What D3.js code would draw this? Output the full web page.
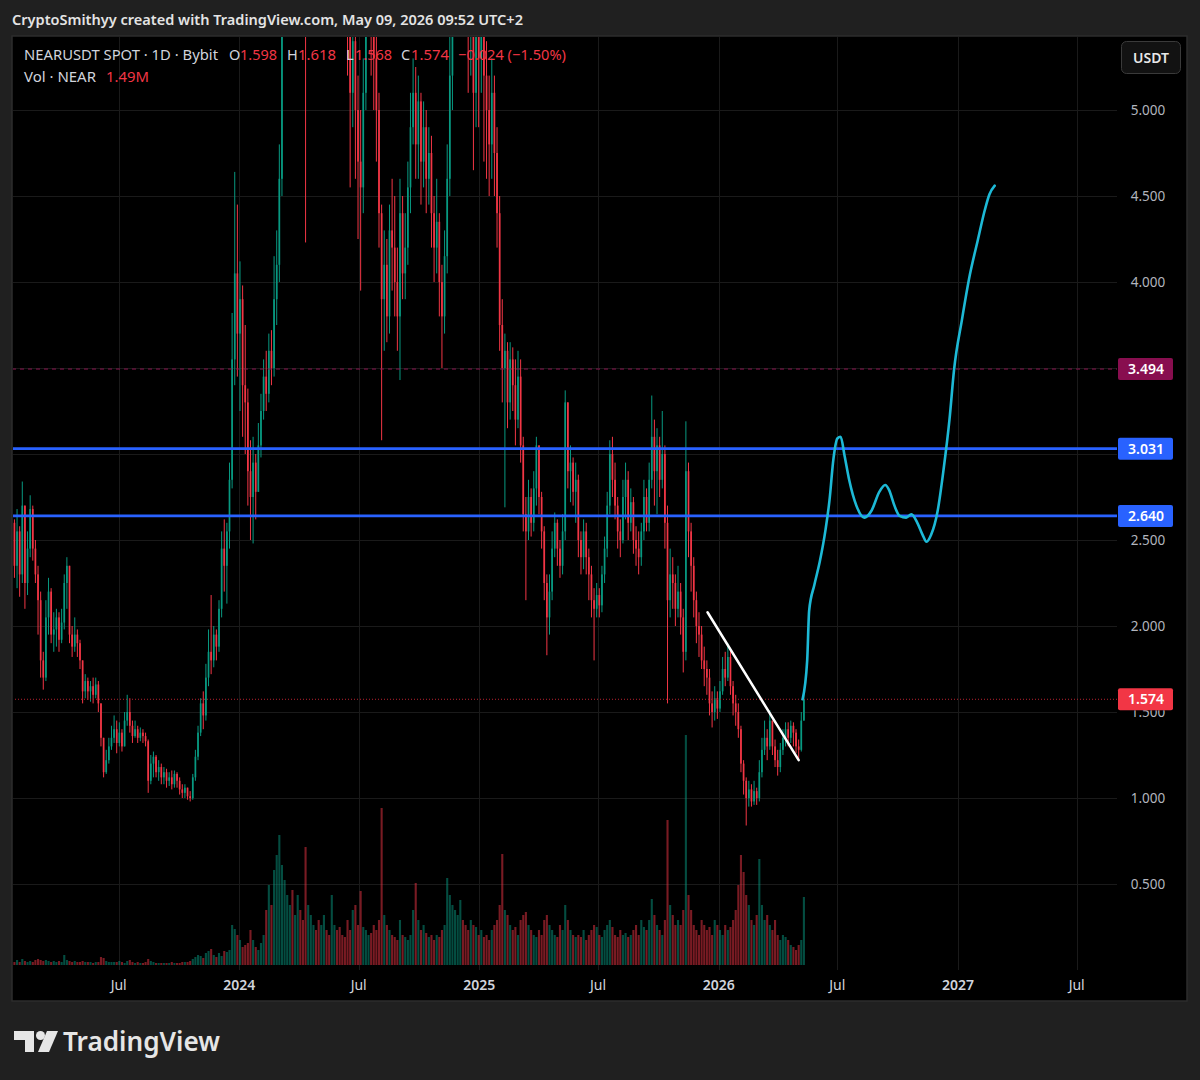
<!DOCTYPE html>
<html><head><meta charset="utf-8">
<script src="https://cdn.jsdelivr.net/npm/d3@7"></script>
<style>body{margin:0;background:#202020;}svg{display:block;}</style>
</head><body><svg id="c" width="1200" height="1080"></svg>
<script>
// ---------- DATA (4-day candles, NEARUSDT) ----------
const startDate = "2023-01-19";
const stepDays = 4;
const firstOpen = 2.50;
const closes = [
2.60,2.35,2.55,2.30,2.70,2.25,2.45,2.68,2.45,2.30,
2.15,1.80,1.70,2.05,2.20,1.95,1.98,2.05,1.92,2.02,
2.25,2.35,1.95,1.88,1.95,1.90,1.80,1.62,1.68,1.62,
1.65,1.60,1.66,1.55,1.35,1.15,1.22,1.30,1.35,1.40,
1.32,1.38,1.30,1.45,1.50,1.42,1.36,1.40,1.35,1.38,
1.36,1.33,1.10,1.20,1.24,1.15,1.18,1.12,1.15,1.10,
1.12,1.08,1.14,1.10,1.05,1.03,1.06,1.01,1.00,1.12,
1.24,1.38,1.55,1.48,1.70,1.85,1.80,1.95,1.88,2.10,
2.45,2.35,2.55,2.85,3.55,4.05,3.70,3.90,3.40,3.30,
2.90,2.75,2.95,2.78,3.05,3.25,3.45,3.35,3.60,3.50,
3.90,4.10,4.60,5.60,6.50,6.80,7.40,6.90,7.10,7.60,
7.20,6.80,5.80,6.20,7.00,7.30,6.60,6.00,6.60,6.90,
6.30,6.00,6.80,7.20,7.00,6.60,6.20,6.00,5.60,5.10,
5.40,5.00,4.70,4.55,5.10,5.70,5.90,5.60,5.30,5.00,
4.40,3.90,4.10,3.80,4.30,4.20,4.00,3.80,4.40,4.05,
4.20,4.55,4.90,5.10,4.80,5.05,4.70,4.90,4.60,4.75,
4.40,4.20,4.35,4.00,3.80,4.15,4.60,5.20,5.80,6.60,
6.90,7.40,7.00,6.20,5.60,5.80,5.10,5.50,5.30,5.60,
5.20,5.00,4.80,5.10,4.75,4.40,3.75,3.50,3.60,3.30,
3.55,3.40,3.20,3.45,3.05,2.65,2.55,2.75,2.60,2.80,
3.05,2.75,2.55,2.25,2.05,2.20,2.45,2.60,2.45,2.35,
2.55,3.30,2.90,2.95,2.78,2.85,2.50,2.40,2.55,2.40,
2.30,2.15,2.10,2.18,2.12,2.30,2.45,2.70,3.00,2.85,
2.70,2.55,2.50,2.75,2.85,2.60,2.72,2.50,2.45,2.40,
2.55,2.75,2.60,2.85,3.10,2.90,3.05,2.85,3.00,2.60,
2.15,2.30,2.25,2.10,2.20,2.05,1.85,2.90,2.55,2.35,
2.15,2.00,1.95,1.80,1.75,1.70,1.55,1.50,1.58,1.52,
1.62,1.75,1.70,1.82,1.65,1.55,1.50,1.40,1.20,1.10,
1.00,1.05,0.98,1.04,1.00,1.15,1.28,1.35,1.30,1.45,
1.30,1.22,1.18,1.28,1.35,1.40,1.35,1.42,1.38,1.30,
1.28,1.45,1.574];
const highs = [
2.72,2.62,2.68,2.58,2.84,2.70,2.55,2.76,2.70,2.50,
2.35,2.20,1.85,2.15,2.28,2.22,2.08,2.10,2.08,2.10,
2.30,2.40,2.30,2.00,2.05,1.98,1.92,1.80,1.72,1.70,
1.68,1.70,1.70,1.68,1.55,1.35,1.28,1.35,1.42,1.48,
1.45,1.44,1.40,1.50,1.60,1.58,1.45,1.45,1.42,1.41,
1.40,1.38,1.34,1.25,1.27,1.25,1.22,1.20,1.18,1.17,
1.15,1.16,1.16,1.15,1.12,1.08,1.08,1.06,1.04,1.14,
1.28,1.42,1.58,1.62,1.78,1.98,2.18,2.00,1.98,2.15,
2.55,2.62,2.60,2.95,3.82,4.64,4.45,4.12,3.98,3.75,
3.38,3.08,3.10,3.00,3.18,3.35,3.55,3.60,3.70,3.72,
4.15,4.30,4.80,5.80,6.90,7.20,7.80,7.60,7.50,8.00,
7.80,7.40,7.10,6.60,7.30,7.80,7.40,6.70,6.90,7.20,
7.00,6.40,7.00,7.50,7.40,7.10,6.70,6.40,6.20,5.70,
5.80,5.60,5.20,5.00,5.30,6.00,6.30,6.10,5.80,5.50,
5.10,4.45,4.30,4.25,4.45,4.60,4.50,4.20,4.60,4.50,
4.40,4.70,5.10,5.30,5.25,5.20,5.10,5.05,5.00,4.90,
4.85,4.50,4.60,4.40,4.10,4.30,4.80,5.50,6.20,7.00,
7.40,8.00,7.60,7.10,6.30,6.00,5.90,5.80,5.60,5.90,
5.70,5.40,5.20,5.30,5.20,4.90,4.50,3.90,3.70,3.65,
3.65,3.62,3.55,3.60,3.55,3.10,2.75,2.85,2.80,2.90,
3.10,3.00,2.78,2.58,2.30,2.30,2.55,2.66,2.62,2.50,
2.65,3.37,3.25,3.05,2.98,2.95,2.88,2.55,2.62,2.60,
2.45,2.35,2.22,2.25,2.22,2.35,2.52,2.78,3.08,3.10,
2.95,2.75,2.62,2.85,2.95,2.90,2.80,2.75,2.58,2.55,
2.60,2.85,2.80,2.95,3.34,3.20,3.15,3.10,3.25,3.05,
2.70,2.45,2.40,2.30,2.35,2.25,2.10,3.19,2.95,2.60,
2.40,2.20,2.08,2.00,1.88,1.80,1.75,1.62,1.65,1.62,
1.68,1.82,1.85,1.90,1.86,1.68,1.60,1.55,1.42,1.22,
1.12,1.10,1.08,1.10,1.06,1.22,1.35,1.45,1.40,1.51,
1.45,1.34,1.28,1.32,1.40,1.44,1.44,1.45,1.44,1.40,
1.34,1.50,1.618];
const lows = [
2.30,2.28,2.22,2.17,2.25,2.10,2.18,2.40,2.38,2.25,
1.95,1.70,1.63,1.68,1.95,1.90,1.85,1.88,1.85,1.90,
1.98,2.10,1.90,1.82,1.85,1.82,1.75,1.55,1.58,1.57,
1.56,1.55,1.58,1.50,1.30,1.12,1.14,1.20,1.28,1.32,
1.26,1.30,1.27,1.30,1.42,1.38,1.32,1.35,1.32,1.33,
1.32,1.30,1.03,1.08,1.12,1.12,1.10,1.08,1.08,1.06,
1.07,1.05,1.06,1.06,1.02,1.00,1.00,0.99,0.98,0.99,
1.10,1.22,1.36,1.40,1.45,1.65,1.72,1.76,1.80,1.85,
2.05,2.20,2.13,2.45,2.80,3.40,3.45,3.25,3.10,3.00,
2.70,2.50,2.48,2.62,2.78,2.98,3.20,3.25,3.30,3.40,
3.45,3.75,4.00,4.50,5.50,6.20,6.60,6.40,6.60,7.00,
6.80,6.20,4.23,5.60,6.00,6.80,6.30,5.70,5.90,6.50,
6.00,5.60,5.90,6.70,6.60,6.30,5.90,5.60,5.20,4.55,
4.90,4.60,4.25,3.95,4.40,5.00,5.50,5.20,5.00,4.70,
4.20,3.08,3.60,3.65,3.70,3.95,3.80,3.60,3.43,3.90,
3.90,4.10,4.40,4.80,4.60,4.60,4.45,4.55,4.40,4.45,
4.20,4.00,4.05,3.80,3.50,3.70,4.05,4.50,5.00,5.60,
6.30,6.80,6.50,5.80,5.10,5.20,4.65,4.90,4.90,5.10,
4.70,4.60,4.50,4.60,4.50,4.20,3.60,3.30,2.69,3.15,
3.20,3.25,3.05,3.15,2.95,2.55,2.15,2.50,2.52,2.55,
2.70,2.65,2.45,2.15,1.83,1.95,2.15,2.40,2.35,2.28,
2.30,2.50,2.80,2.72,2.70,2.60,2.40,2.30,2.33,2.30,
2.15,2.05,1.80,2.05,2.05,2.08,2.25,2.40,2.65,2.75,
2.62,2.45,2.40,2.48,2.62,2.50,2.55,2.42,2.35,2.30,
2.35,2.50,2.55,2.55,2.80,2.70,2.65,2.75,2.80,2.45,
1.55,2.05,2.10,2.00,2.05,1.95,1.73,1.80,2.40,2.20,
2.05,1.90,1.82,1.75,1.65,1.60,1.48,1.41,1.45,1.46,
1.50,1.60,1.65,1.68,1.60,1.48,1.42,1.35,1.15,1.02,
0.84,0.95,0.95,0.96,0.96,0.98,1.12,1.25,1.22,1.28,
1.25,1.18,1.13,1.15,1.25,1.30,1.30,1.32,1.30,1.26,
1.22,1.27,1.45];
const volumes = [
4,3,5,3,6,4,3,4,3,5,6,5,4,
5,4,3,4,3,4,3,10,5,4,3,4,3,3,
4,3,3,3,2,3,3,
8,7,4,3,3,3,3,4,3,2,4,5,3,2,3,2,2,3,6,
4,3,2,2,2,2,2,2,3,2,2,2,3,3,3,4,
6,8,10,9,7,12,14,16,10,8,12,9,14,13,15,
40,36,30,25,18,20,22,35,25,18,15,22,30,55,80,60,95,110,130,100,
85,70,60,75,50,70,55,45,118,60,50,40,35,45,40,50,35,30,70,40,35,38,30,28,
45,35,55,60,40,74,38,35,30,32,40,35,45,
157,
50,40,35,30,28,25,45,30,28,25,30,55,82,45,35,40,32,28,30,
25,30,28,35,40,87,70,60,55,50,65,45,40,35,45,
40,38,30,35,28,30,25,35,40,45,60,111,55,50,40,35,38,30,45,50,
53,40,35,30,28,35,30,45,50,40,35,30,28,40,35,60,45,35,30,28,
30,28,35,25,30,35,40,38,30,28,35,40,45,38,30,28,35,30,32,28,30,35,40,30,45,38,35,45,66,50,40,35,30,45,
145,
60,50,40,45,40,55,
230,
70,55,40,35,30,45,40,35,38,30,45,40,35,30,40,35,38,45,
55,80,110,93,70,60,45,40,50,
106,60,45,50,40,35,45,30,25,30,28,25,20,18,15,20,25,68];

const priceTicks = [0.5, 1.0, 1.5, 2.0, 2.5, 4.0, 4.5, 5.0];
const gridPrices = [0.5,1.0,1.5,2.0,2.5,3.0,3.5,4.0,4.5,5.0];
const timeTickDates = ["2023-07-01","2024-01-01","2024-07-01","2025-01-01","2025-07-01","2026-01-01","2026-07-01","2027-01-01","2027-07-01"];
const timeTickLabels = ["Jul","2024","Jul","2025","Jul","2026","Jul","2027","Jul"];

const supportLevels = [3.031, 2.640];
const resistanceLevel = 3.494;
const lastPrice = 1.574;

const trendDates = ["2025-12-15","2026-05-03"];
const trendPrices = [2.08, 1.22];

const projDates = ["2026-05-09","2026-05-16","2026-05-19","2026-05-27","2026-06-04","2026-06-13","2026-06-19","2026-06-25","2026-07-01","2026-07-06","2026-07-12","2026-07-19","2026-07-30","2026-08-11","2026-08-22","2026-09-03","2026-09-12","2026-09-18","2026-09-26","2026-10-04","2026-10-14","2026-10-22","2026-10-31","2026-11-08","2026-11-14","2026-11-21","2026-12-01","2026-12-10","2026-12-19","2026-12-26","2027-01-07","2027-01-19","2027-01-31","2027-02-11","2027-02-18","2027-02-26"];
const projPrices = [1.574,1.80,2.09,2.24,2.37,2.56,2.73,2.97,3.09,3.10,2.99,2.85,2.70,2.63,2.67,2.78,2.82,2.79,2.70,2.64,2.63,2.65,2.60,2.53,2.49,2.53,2.67,2.91,3.20,3.49,3.78,4.04,4.24,4.42,4.51,4.56];

// ---------- DRAW ----------
const W = 1200, H = 1080;
const panel = {x0: 12, y0: 36, x1: 1187, y1: 1001};
const plotRight = 1117;
const UP = "#089981", DOWN = "#f23645";
const FONT = "'Noto Sans', 'Open Sans', sans-serif";
const parse = d3.utcParse("%Y-%m-%d");

const svg = d3.select("#c");
svg.append("rect").attr("width", W).attr("height", H).attr("fill", "#202020");

// header
svg.append("text").attr("x", 12).attr("y", 25)
  .attr("font-family", FONT).attr("font-size", 15).attr("font-weight", 600)
  .attr("fill", "#e4e4e4").attr("textLength", 511).attr("lengthAdjust", "spacingAndGlyphs")
  .text("CryptoSmithyy created with TradingView.com, May 09, 2026 09:52 UTC+2");

// panel
svg.append("rect").attr("x", panel.x0).attr("y", panel.y0)
  .attr("width", panel.x1 - panel.x0).attr("height", panel.y1 - panel.y0)
  .attr("fill", "#000").attr("stroke", "#2c2c2c").attr("stroke-width", 1.5);

const x = d3.scaleUtc().domain([parse("2023-01-01"), parse("2027-01-01")]).range([0, 958]);
const y = d3.scaleLinear().domain([0, 5]).range([970, 110]);
const vy = d3.scaleLinear().domain([0, 250]).range([965, 715]);

const defs = svg.append("defs");
defs.append("clipPath").attr("id", "plotclip").append("rect")
  .attr("x", panel.x0 + 1).attr("y", panel.y0 + 1)
  .attr("width", plotRight - panel.x0 - 1).attr("height", panel.y1 - panel.y0 - 2);

const plot = svg.append("g").attr("clip-path", "url(#plotclip)");

// grid
plot.selectAll(".hg").data(gridPrices).join("line")
  .attr("x1", panel.x0).attr("x2", plotRight)
  .attr("y1", d => Math.round(y(d)) + 0.5).attr("y2", d => Math.round(y(d)) + 0.5)
  .attr("stroke", "#1a1a1a").attr("stroke-width", 1);
plot.selectAll(".vg").data(timeTickDates).join("line")
  .attr("x1", d => Math.round(x(parse(d))) + 0.5).attr("x2", d => Math.round(x(parse(d))) + 0.5)
  .attr("y1", panel.y0).attr("y2", 970)
  .attr("stroke", "#1a1a1a").attr("stroke-width", 1);

// candles data
const start = parse(startDate);
const n = Math.min(closes.length, highs.length, lows.length, volumes.length);
const candles = d3.range(n).map(i => {
  const o = i === 0 ? firstOpen : closes[i - 1];
  const c = closes[i];
  return {date: d3.utcDay.offset(start, stepDays * i), o, c,
          h: Math.max(highs[i], o, c), l: Math.min(lows[i], o, c), v: volumes[i]};
});
const bw = 1.7;

// volume
plot.append("g").selectAll("rect").data(candles).join("rect")
  .attr("x", d => x(d.date) - 1.05).attr("width", 2.1)
  .attr("y", d => vy(d.v)).attr("height", d => 965 - vy(d.v))
  .attr("fill", d => d.c >= d.o ? "rgba(8,153,129,0.5)" : "rgba(242,54,69,0.5)");

// wicks
plot.append("g").selectAll("line").data(candles).join("line")
  .attr("x1", d => x(d.date)).attr("x2", d => x(d.date))
  .attr("y1", d => y(d.h)).attr("y2", d => y(d.l))
  .attr("stroke", d => d.c >= d.o ? UP : DOWN).attr("stroke-width", 1);
// bodies
plot.append("g").selectAll("rect").data(candles).join("rect")
  .attr("x", d => x(d.date) - bw / 2).attr("width", bw)
  .attr("y", d => y(Math.max(d.o, d.c)))
  .attr("height", d => Math.max(1, Math.abs(y(d.o) - y(d.c))))
  .attr("fill", d => d.c >= d.o ? UP : DOWN);

// resistance dashed
plot.append("line").attr("x1", panel.x0).attr("x2", plotRight)
  .attr("y1", y(resistanceLevel)).attr("y2", y(resistanceLevel))
  .attr("stroke", "#8a1650").attr("stroke-width", 1).attr("stroke-dasharray", "4,4");
// last price dotted
plot.append("line").attr("x1", panel.x0).attr("x2", plotRight)
  .attr("y1", y(lastPrice)).attr("y2", y(lastPrice))
  .attr("stroke", "#b8222f").attr("stroke-width", 1).attr("stroke-dasharray", "1,2");
// support lines
plot.selectAll(".lvl").data(supportLevels).join("line")
  .attr("x1", panel.x0).attr("x2", plotRight)
  .attr("y1", d => y(d)).attr("y2", d => y(d))
  .attr("stroke", "#2962ff").attr("stroke-width", 2.6);

// trend line
plot.append("line")
  .attr("x1", x(parse(trendDates[0]))).attr("y1", y(trendPrices[0]))
  .attr("x2", x(parse(trendDates[1]))).attr("y2", y(trendPrices[1]))
  .attr("stroke", "#ffffff").attr("stroke-width", 2.5).attr("stroke-linecap", "round");

// projection
const proj = projDates.map((d, i) => ({date: parse(d), p: projPrices[i]}));
plot.append("path").datum(proj)
  .attr("d", d3.line().x(d => x(d.date)).y(d => y(d.p)).curve(d3.curveMonotoneX))
  .attr("fill", "none").attr("stroke", "#1db9d6").attr("stroke-width", 2.6)
  .attr("stroke-linecap", "round");

// price axis labels (the 1.500 label sits partly under the last-price box, as in the reference)
const axisX = 1148;
const lastBoxBottom = y(lastPrice) + 11;
defs.append("clipPath").attr("id", "underbox").append("rect")
  .attr("x", 1100).attr("y", lastBoxBottom).attr("width", 100).attr("height", 40);
svg.append("g").selectAll("text").data(priceTicks).join("text")
  .attr("x", axisX).attr("y", d => y(d)).attr("dy", "0.36em")
  .attr("text-anchor", "middle").attr("font-family", FONT).attr("font-size", 13.5)
  .attr("fill", "#b2b5be")
  .attr("clip-path", d => Math.abs(y(d) - y(lastPrice)) < 20 ? "url(#underbox)" : null)
  .text(d => d.toFixed(3));

// price labels (boxes)
const boxes = [
  {p: resistanceLevel, fill: "#880e4f"},
  {p: supportLevels[0], fill: "#2962ff"},
  {p: supportLevels[1], fill: "#2962ff"},
  {p: lastPrice, fill: "#f23645"}
];
const bg = svg.append("g");
boxes.forEach(b => {
  bg.append("rect").attr("x", 1118).attr("y", y(b.p) - 11).attr("width", 55).attr("height", 22)
    .attr("rx", 2).attr("fill", b.fill);
  bg.append("text").attr("x", 1146).attr("y", y(b.p)).attr("dy", "0.36em")
    .attr("text-anchor", "middle").attr("font-family", FONT).attr("font-size", 14)
    .attr("font-weight", 600).attr("fill", "#ffffff").text(b.p.toFixed(3));
});

// USDT button
svg.append("rect").attr("x", 1121.5).attr("y", 41.5).attr("width", 59).attr("height", 32).attr("rx", 5)
  .attr("fill", "#121212").attr("stroke", "#3a3a3a");
svg.append("text").attr("x", 1151).attr("y", 57.5).attr("dy", "0.36em").attr("text-anchor", "middle")
  .attr("font-family", FONT).attr("font-size", 14).attr("font-weight", 600).attr("fill", "#e8e8e8").text("USDT");

// time axis
svg.append("g").selectAll("text").data(timeTickDates).join("text")
  .attr("x", d => x(parse(d))).attr("y", 985).attr("dy", "0.36em")
  .attr("text-anchor", "middle").attr("font-family", FONT).attr("font-size", 14)
  .attr("font-weight", (d, i) => timeTickLabels[i] === "Jul" ? 400 : 600)
  .attr("fill", "#d1d4dc").text((d, i) => timeTickLabels[i]);

// legend
const GRAY = "#d1d4dc";
const lg = svg.append("g").attr("font-family", FONT).attr("font-size", 14.5);
const leg1 = [
  ["NEARUSDT SPOT · 1D · Bybit", 24, GRAY, 194],
  ["O", 229, GRAY], ["1.598", 240, DOWN, 37],
  ["H", 287, GRAY], ["1.618", 298, DOWN, 38],
  ["L", 346, GRAY], ["1.568", 355, DOWN, 37],
  ["C", 401, GRAY], ["1.574", 411, DOWN, 38],
  ["−0.024 (−1.50%)", 458, DOWN, 108]
];
leg1.forEach(t => {
  const el = lg.append("text").attr("x", t[1]).attr("y", 60).attr("fill", t[2]).text(t[0]);
  if (t[3]) el.attr("textLength", t[3]).attr("lengthAdjust", "spacingAndGlyphs");
});
lg.append("text").attr("x", 24).attr("y", 82).attr("fill", GRAY)
  .attr("textLength", 72).attr("lengthAdjust", "spacingAndGlyphs").text("Vol · NEAR");
lg.append("text").attr("x", 106).attr("y", 82).attr("fill", DOWN)
  .attr("textLength", 43).attr("lengthAdjust", "spacingAndGlyphs").text("1.49M");

// TradingView logo
const logo = svg.append("g").attr("fill", "#e6e6e6");
logo.append("path").attr("d", "M14,1031 H34 V1052 H25 V1040 H14 Z");
logo.append("circle").attr("cx", 40.5).attr("cy", 1035.5).attr("r", 4.5);
logo.append("path").attr("d", "M47,1031 H58 L49,1052 H38 Z");
logo.append("text").attr("x", 63).attr("y", 1051).attr("font-family", FONT)
  .attr("font-size", 27).attr("font-weight", 600).attr("fill", "#e6e6e6")
  .attr("textLength", 157).attr("lengthAdjust", "spacingAndGlyphs").text("TradingView");
</script>
</body></html>
